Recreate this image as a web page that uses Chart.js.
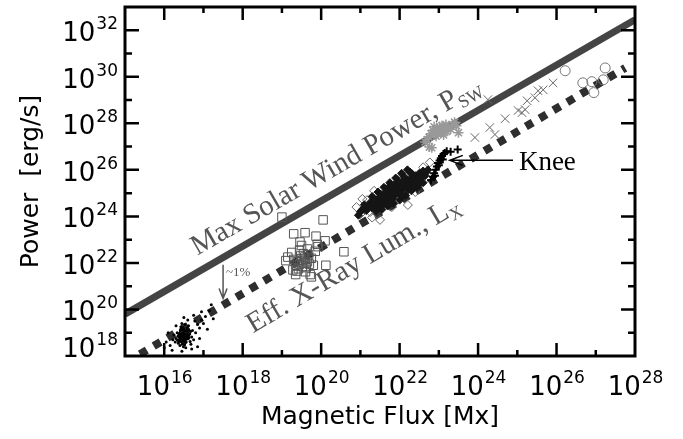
<!DOCTYPE html>
<html>
<head>
<meta charset="utf-8">
<script src="https://cdn.jsdelivr.net/npm/chart.js@4.4.0/dist/chart.umd.min.js"></script>
<style>
  body { margin: 0; background: #fff; }
  canvas { display: block; }
</style>
</head>
<body>
<canvas id="chartFlux" width="683" height="439"></canvas>
<script>
// all values below are log10 of (flux in Mx, power in erg/s)
const xLabelExps = [16, 18, 20, 22, 24, 26, 28];
const yLabelExps = [18, 20, 22, 24, 26, 28, 30, 32];
const xMajor = [16, 18, 20, 22, 24, 26];
const xMinor = [17, 19, 21, 23, 25, 27];
const yMajor = [20, 22, 24, 26, 28, 30, 32];
const yMinor = [19, 21, 23, 25, 27, 29, 31];

const solarWind = [[15.0, 19.8], [28.0, 32.45]];
const xrayLum = [[15.38, 18.08], [27.75, 30.38]];

const sunDots = [
  [16.45,18.85],[16.50,18.90],[16.42,18.78],[16.55,18.95],[16.48,18.70],[16.52,19.05],[16.40,18.92],[16.58,18.80],[16.46,19.00],[16.53,18.65],
  [16.38,18.70],[16.62,18.88],[16.44,18.60],[16.50,19.15],[16.35,18.85],[16.60,19.02],[16.47,18.55],[16.56,18.72],[16.41,19.08],[16.65,18.95],
  [16.30,18.75],[16.70,18.82],[16.52,18.48],[16.43,19.25],[16.58,19.20],[16.36,18.55],[16.66,18.62],[16.49,18.40],[16.33,19.00],[16.72,19.10],
  [16.25,18.90],[16.75,18.70],[16.55,18.35],[16.40,18.45],[16.62,19.30],[16.28,18.60],[16.80,19.00],[16.45,19.40],[16.68,18.50],[16.22,18.70],
  [16.49,18.80],[16.51,18.98],[16.44,18.72],[16.57,18.86],[16.39,18.98],[16.54,18.58],[16.46,19.12],[16.61,18.74],[16.37,18.62],[16.63,19.12],
  [16.47,18.93],[16.53,18.83],[16.43,18.88],[16.57,19.08],[16.39,18.80],[16.49,18.66],[16.55,18.78],[16.45,18.97],[16.51,18.74],[16.59,18.92],
  [16.37,18.90],[16.63,18.80],[16.42,19.15],[16.56,18.60],[16.48,19.22],[16.34,18.68],[16.67,19.05],[16.46,18.50],[16.53,19.35],[16.41,18.65],
  [16.85,19.35],[16.95,19.55],[17.05,19.70],[17.15,19.95],[16.90,19.20],[17.00,19.40],[16.78,19.50],[16.60,19.55],[16.30,19.30],[16.15,18.45],
  [16.20,18.25],[16.45,18.20],[16.70,18.30],[16.90,18.75],[16.10,19.00],[17.10,19.15],[16.05,18.60],[16.85,18.40],[17.20,20.20],[16.95,19.90],
  [16.75,19.75],[16.50,19.65],[17.25,19.60],[16.00,18.35]
];
const squares = [
  [19.50,22.10],[19.55,22.00],[19.60,22.15],[19.45,21.95],[19.65,22.05],[19.52,21.85],[19.58,22.25],[19.40,22.05],[19.70,21.95],[19.48,22.30],
  [19.62,21.80],[19.35,21.90],[19.75,22.20],[19.42,21.75],[19.55,22.40],[19.68,22.35],[19.30,22.15],[19.80,21.90],[19.38,21.65],[19.60,21.62],
  [19.72,21.50],[19.28,21.70],[19.45,22.55],[19.65,22.60],[19.85,22.50],[19.15,22.25],[19.10,22.10],[19.50,22.75],[19.90,22.80],[19.35,21.50],
  [19.00,23.97],[20.05,23.85],[20.58,22.48],[20.12,21.90],[19.46,22.90],[19.59,23.30],[19.87,23.15],[20.10,22.95],[19.30,23.25],[19.75,21.40],
  [19.92,22.70],[19.25,22.45]
];
const diamonds = [
  [21.20,24.45],[21.25,24.60],[21.30,24.35],[21.35,24.55],[21.40,24.70],[21.42,24.45],[21.48,24.62],[21.50,24.85],[21.55,24.50],[21.58,24.75],
  [21.60,24.95],[21.65,24.65],[21.68,24.85],[21.70,25.05],[21.75,24.75],[21.78,24.95],[21.80,25.15],[21.85,24.85],[21.88,25.05],[21.90,25.25],
  [21.95,25.00],[21.98,25.20],[22.00,25.35],[22.05,25.10],[22.08,25.30],[22.10,25.45],[22.15,25.25],[22.18,25.40],[22.20,25.55],[22.25,25.35],
  [22.28,25.50],[22.30,25.65],[22.35,25.45],[22.38,25.60],[22.40,25.75],[22.45,25.55],[22.48,25.70],[22.50,25.85],[22.55,25.65],[22.58,25.80],
  [22.60,25.95],[22.65,25.75],[22.68,25.90],[22.72,26.00],[21.62,24.55],[21.82,24.75],[22.02,24.95],[22.22,25.15],[21.72,25.25],[21.92,25.45],
  [22.12,25.60],[22.32,25.80],[21.30,24.85],[21.45,25.05],[21.60,25.25],[21.75,25.45],[21.90,25.65],[22.05,25.85],[22.20,26.00],[21.40,24.25],
  [21.55,24.30],[21.70,24.45],[21.85,24.55],[22.00,24.70],[22.15,24.90],[22.30,25.10],[22.45,25.25],[22.60,25.45],[21.15,24.25],[21.10,24.50],
  [21.05,24.30],[22.50,25.40],[21.35,24.75],[21.52,24.95],[21.67,25.10],[21.82,25.30],[21.97,25.50],[22.12,25.70],[22.27,25.90],[21.47,24.40],
  [21.77,24.60],[22.07,24.85],[22.37,25.25],[20.95,24.05],[21.00,24.20]
];
const openDiamonds = [
  [21.17,24.70],[21.42,24.96],[21.68,25.17],[21.96,25.56],[22.32,25.81],[22.60,26.11],[22.77,26.32],[22.21,24.49],[21.50,23.85],[21.25,24.19],
  [21.00,24.10],[21.10,24.30],[21.30,23.95],[22.40,25.05],[21.80,24.40],[20.90,24.40],[21.05,24.75],[21.35,25.10]
];
const knee = [
  [22.80,25.55],[22.85,25.70],[22.88,25.85],[22.92,26.00],[22.95,26.15],[22.98,26.30],[23.02,26.40],[23.05,26.50],[23.08,26.60],[23.12,26.68],
  [23.15,26.72],[23.20,26.80],[23.00,26.20],[22.90,25.75],[23.10,26.45],[23.48,26.88],[23.30,26.78]
];
const grayStars = [
  [23.00,27.70],[23.05,27.65],[22.95,27.75],[23.10,27.72],[22.90,27.60],[23.15,27.80],[23.02,27.85],[22.98,27.55],[23.20,27.65],[22.85,27.70],
  [23.08,27.90],[22.93,27.45],[23.25,27.85],[22.80,27.55],[23.12,27.50],[23.30,27.75],[22.75,27.40],[23.18,27.95],[22.88,27.85],[23.35,27.95],
  [22.70,27.30],[23.40,28.05],[22.65,27.20],[23.45,27.90],[22.82,26.95],[22.76,26.98],[23.50,27.60],[23.05,27.78],[22.97,27.62],[23.22,27.78]
];
const crosses = [
  [23.92,27.39],[24.30,27.82],[24.43,27.52],[24.69,28.20],[25.02,28.55],[25.12,28.46],[25.20,28.59],[25.25,28.97],[25.45,29.10],[25.53,29.40],
  [25.66,29.44],[25.91,29.74],[24.25,29.02]
];
const circles = [[26.22,30.26],[26.67,29.74],[26.90,29.79],[26.95,29.32],[27.24,30.38],[27.19,29.87]];

const toPts = arr => arr.map(([a, b]) => ({ x: 10 ** a, y: 10 ** b }));

const serif = '"Liberation Serif", "DejaVu Serif", serif';
const sansFont = '"DejaVu Sans", sans-serif';

const drawRotLabel = (ctx, text, sub, x, y, angle, size, color) => {
  ctx.save();
  ctx.translate(x, y);
  ctx.rotate(angle);
  ctx.fillStyle = color;
  ctx.textBaseline = 'alphabetic';
  ctx.font = size + 'px ' + serif;
  ctx.fillText(text, 0, 0);
  const w = ctx.measureText(text).width;
  ctx.font = Math.round(size * 0.62) + 'px ' + serif;
  ctx.fillText(sub, w, size * 0.18);
  ctx.restore();
};

// "10" with a raised exponent; align = 'center' or 'right'
const drawPow = (ctx, exp, x, base, align) => {
  ctx.font = '26px ' + sansFont;
  const w1 = ctx.measureText('10').width;
  ctx.font = '17px ' + sansFont;
  const w2 = ctx.measureText(String(exp)).width;
  const x0 = align === 'right' ? x - w1 - w2 : x - (w1 + w2) / 2;
  ctx.font = '26px ' + sansFont;
  ctx.fillText('10', x0, base);
  ctx.font = '17px ' + sansFont;
  ctx.fillText(String(exp), x0 + w1 + 1, base - 12);
};

const overlay = {
  id: 'overlay',
  afterDatasetsDraw(chart) {
    const { ctx, chartArea: a, scales: { x, y } } = chart;
    const px = l => x.getPixelForValue(10 ** l);
    const py = l => y.getPixelForValue(10 ** l);
    ctx.save();

    // inward ticks on all four sides
    ctx.strokeStyle = '#000';
    ctx.lineWidth = 2.5;
    ctx.beginPath();
    const xt = (l, len) => {
      const p = px(l);
      ctx.moveTo(p, a.bottom); ctx.lineTo(p, a.bottom - len);
      ctx.moveTo(p, a.top); ctx.lineTo(p, a.top + len);
    };
    const yt = (l, len) => {
      const p = py(l);
      ctx.moveTo(a.left, p); ctx.lineTo(a.left + len, p);
      ctx.moveTo(a.right, p); ctx.lineTo(a.right - len, p);
    };
    xMajor.forEach(l => xt(l, 13));
    xMinor.forEach(l => xt(l, 6));
    yMajor.forEach(l => yt(l, 14));
    yMinor.forEach(l => yt(l, 7));
    ctx.stroke();

    // frame
    ctx.lineWidth = 3;
    ctx.strokeRect(a.left, a.top, a.right - a.left, a.bottom - a.top);

    // tick labels
    ctx.fillStyle = '#000';
    ctx.textBaseline = 'alphabetic';
    ctx.textAlign = 'left';
    xLabelExps.forEach(e => drawPow(ctx, e, px(e), a.bottom + 39, 'center'));
    yLabelExps.forEach(e => drawPow(ctx, e, a.left - 8, Math.min(py(e) + 11, a.bottom + 1), 'right'));

    // rotated line labels
    const angSW = Math.atan2(py(solarWind[1][1]) - py(solarWind[0][1]), px(solarWind[1][0]) - px(solarWind[0][0]));
    const angLX = Math.atan2(py(xrayLum[1][1]) - py(xrayLum[0][1]), px(xrayLum[1][0]) - px(xrayLum[0][0]));
    drawRotLabel(ctx, 'Max Solar Wind Power, P', 'SW', px(16.84), py(22.31), angSW, 29, '#555');
    drawRotLabel(ctx, 'Eff. X-Ray Lum., L', 'X', px(18.26), py(18.97), angLX, 29, '#555');

    // Knee label + arrow
    ctx.fillStyle = '#000';
    ctx.font = '27px ' + serif;
    ctx.fillText('Knee', px(25.04), py(26.0));
    ctx.strokeStyle = '#000';
    ctx.lineWidth = 1.5;
    const ky = py(26.41), kx0 = px(24.89), kx1 = px(23.28);
    ctx.beginPath();
    ctx.moveTo(kx0, ky); ctx.lineTo(kx1, ky);
    ctx.moveTo(kx1 + 13, ky - 5); ctx.lineTo(kx1, ky); ctx.lineTo(kx1 + 13, ky + 5);
    ctx.stroke();

    // ~1% arrow
    ctx.strokeStyle = '#555';
    const ax = px(17.5), ay0 = py(21.92), ay1 = py(20.47);
    ctx.beginPath();
    ctx.moveTo(ax, ay0); ctx.lineTo(ax, ay1);
    ctx.moveTo(ax - 4, ay1 - 10); ctx.lineTo(ax, ay1); ctx.lineTo(ax + 4, ay1 - 10);
    ctx.stroke();
    ctx.fillStyle = '#555';
    ctx.font = '13px ' + serif;
    ctx.fillText('~1%', ax + 3, ay0 + 11);

    ctx.restore();
  }
};

new Chart(document.getElementById('chartFlux'), {
  type: 'scatter',
  data: {
    datasets: [
      { data: toPts(solarWind), showLine: true, borderColor: '#444', borderWidth: 7, pointRadius: 0, clip: 0, order: 20 },
      { data: toPts(xrayLum), showLine: true, borderColor: '#2e2e2e', borderWidth: 8, borderDash: [8, 8], borderCapStyle: 'butt', pointRadius: 0, clip: 0, order: 19 },
      { data: toPts(sunDots), pointRadius: 1.5, backgroundColor: '#000', borderWidth: 0, clip: 0, order: 9 },
      { data: toPts(squares), pointStyle: 'rect', pointRadius: 6, backgroundColor: 'transparent', borderColor: '#555', borderWidth: 1, clip: 0, order: 8 },
      { data: toPts(openDiamonds), pointStyle: 'rectRot', pointRadius: 4.5, backgroundColor: 'transparent', borderColor: '#666', borderWidth: 1, clip: 0, order: 7 },
      { data: toPts(diamonds), pointStyle: 'rectRot', pointRadius: 4, backgroundColor: '#151515', borderColor: '#151515', borderWidth: 1, clip: 0, order: 6 },
      { data: toPts(knee), pointStyle: 'cross', pointRadius: 4, borderColor: '#000', borderWidth: 2, clip: 0, order: 5 },
      { data: toPts(grayStars), pointStyle: 'star', pointRadius: 5, borderColor: '#999', borderWidth: 1.5, clip: 0, order: 4 },
      { data: toPts(crosses), pointStyle: 'crossRot', pointRadius: 6, borderColor: '#666', borderWidth: 1, clip: 0, order: 3 },
      { data: toPts(circles), pointStyle: 'circle', pointRadius: 5, backgroundColor: 'transparent', borderColor: '#777', borderWidth: 1, clip: 0, order: 2 }
    ]
  },
  options: {
    responsive: false,
    animation: false,
    events: [],
    layout: { padding: { top: 4, right: 48, left: 0, bottom: 0 } },
    plugins: { legend: { display: false }, tooltip: { enabled: false } },
    scales: {
      x: {
        type: 'logarithmic',
        min: 1e15,
        max: 1e28,
        grid: { display: false },
        border: { display: false },
        ticks: { display: false },
        afterFit: s => { s.height = 83; s.paddingLeft = 0; s.paddingRight = 0; },
        title: { display: true, text: 'Magnetic Flux [Mx]', color: '#000', font: { family: sansFont, size: 25 }, padding: { top: 0, bottom: 7 } }
      },
      y: {
        type: 'logarithmic',
        min: 1e18,
        max: 1e33,
        grid: { display: false },
        border: { display: false },
        ticks: { display: false },
        afterFit: s => { s.width = 125; s.paddingTop = 0; s.paddingBottom = 0; },
        title: { display: true, text: 'Power  [erg/s]', color: '#000', font: { family: sansFont, size: 25 }, padding: { top: 16, bottom: 0 } }
      }
    }
  },
  plugins: [overlay]
});
</script>
</body>
</html>
